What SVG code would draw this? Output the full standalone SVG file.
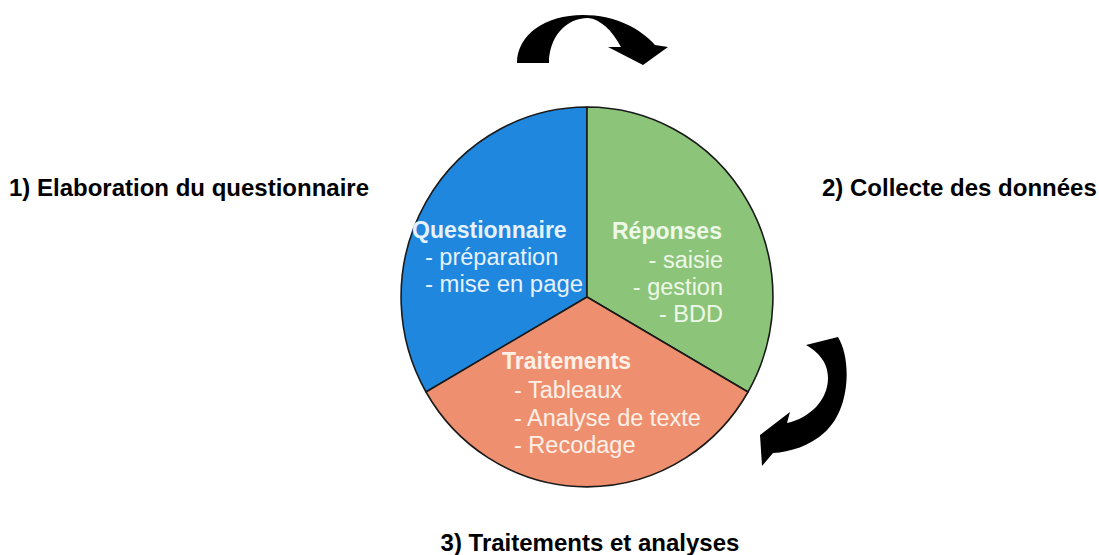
<svg xmlns="http://www.w3.org/2000/svg" width="1099" height="555" viewBox="0 0 1099 555">
  <style>
    .seg { stroke: #1a1a1a; stroke-width: 1.6; stroke-linejoin: round; }
    .label { font-family: "Liberation Sans", Arial, sans-serif; font-weight: bold; font-size: 24px; fill: #000; }
    .title { font-family: "Liberation Sans", Arial, sans-serif; font-weight: bold; font-size: 23px; }
    .item { font-family: "Liberation Sans", Arial, sans-serif; font-size: 23.5px; }
    .arrow { fill: #000; }
  </style>
  <rect width="1099" height="555" fill="#ffffff"/>

  <g id="node-questionnaire">
    <path class="seg" fill="#1f87de" d="M587,297 L587,107 A186,190 0 0,0 426,392 Z"/>
    <text class="title" x="412" y="238" fill="#e6f2ff">Questionnaire</text>
    <text class="item" x="425" y="265" fill="#e6f2ff">- préparation</text>
    <text class="item" x="425" y="292" fill="#e6f2ff" textLength="158" lengthAdjust="spacingAndGlyphs">- mise en page</text>
  </g>

  <g id="node-reponses">
    <path class="seg" fill="#8cc57a" d="M587,297 L587,107 A186,190 0 0,1 748,392 Z"/>
    <text class="title" x="612" y="239" fill="#eef8e8">Réponses</text>
    <text class="item" x="723" y="268" text-anchor="end" fill="#eef8e8">- saisie</text>
    <text class="item" x="723" y="295" text-anchor="end" fill="#eef8e8">- gestion</text>
    <text class="item" x="723" y="322" text-anchor="end" fill="#eef8e8">- BDD</text>
  </g>

  <g id="node-traitements">
    <path class="seg" fill="#ee906f" d="M587,297 L426,392 A186,190 0 0,0 748,392 Z"/>
    <text class="title" x="502" y="369" fill="#fff0e8">Traitements</text>
    <text class="item" x="514" y="398" fill="#fff0e8">- Tableaux</text>
    <text class="item" x="514" y="426" fill="#fff0e8">- Analyse de texte</text>
    <text class="item" x="514" y="453" fill="#fff0e8">- Recodage</text>
  </g>

  <g id="label-1">
    <text class="label" x="9" y="196">1) Elaboration du questionnaire</text>
  </g>
  <g id="label-2">
    <text class="label" x="822" y="196">2) Collecte des données</text>
  </g>
  <g id="label-3">
    <text class="label" x="590" y="551" text-anchor="middle">3) Traitements et analyses</text>
  </g>

  <g id="connectors">
    <path class="arrow" d="M517,63 C517,35 545,15 583,15 C615,15 640,28 655,45 L668,47 L643,65 L608,47 L621,47 C612,30 600,19 588,18 C565,18 549,38 549,63 Z"/>
    <path class="arrow" d="M760,435 L790,412 L787,423 C810,418 828,400 828,378 C828,362 818,352 806,345 L838,337 C852,360 850,410 825,432 C810,446 790,452 773,453 L762,466 Z"/>
  </g>
</svg>
